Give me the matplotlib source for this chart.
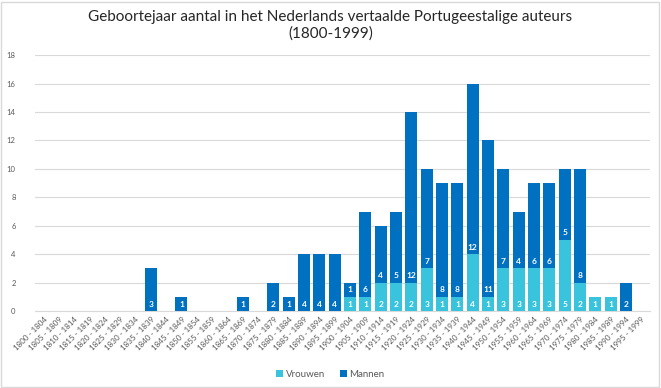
import matplotlib
matplotlib.use("Agg")
import matplotlib.pyplot as plt
import numpy as np
from matplotlib.patches import Rectangle

starts = list(range(1800, 2000, 5))
categories = [f"{s} - {s+4}" for s in starts]
vrouwen = [0,0,0,0,0,0,0,0,0,0, 0,0,0,0,0,0,0,0,0,0,
           1,1,2,2,2,3,1,1,4,1, 3,3,3,3,5,2,1,1,0,0]
mannen  = [0,0,0,0,0,0,0,3,0,1, 0,0,0,1,0,2,1,4,4,4,
           1,6,4,5,12,7,8,8,12,11, 7,4,6,6,5,8,0,0,2,0]

plt.rcParams['font.family'] = ['Lato', 'DejaVu Sans']
c_v = '#3AC3DD'
c_m = '#0070C0'

fig = plt.figure(figsize=(6.61, 3.88), dpi=100)
ax = fig.add_axes([0.053, 0.198, 0.93, 0.66])
x = np.arange(len(categories))
w = 0.78
ax.bar(x, vrouwen, w, color=c_v, label='Vrouwen', zorder=3)
ax.bar(x, mannen, w, bottom=vrouwen, color=c_m, label='Mannen', zorder=3)

for i in range(len(x)):
    if vrouwen[i] > 0:
        ax.text(x[i], 0.25, str(vrouwen[i]), ha='center', va='bottom', color='white',
                fontsize=6, fontweight='bold', zorder=4)
    if mannen[i] > 0:
        ax.text(x[i], vrouwen[i] + 0.25, str(mannen[i]), ha='center', va='bottom', color='white',
                fontsize=6, fontweight='bold', zorder=4)

ax.set_xlim(-0.55, len(x) - 0.45)
ax.set_ylim(0, 18)
ax.set_yticks(range(0, 19, 2))
ax.yaxis.grid(True, color='#D9D9D9', linewidth=0.8, zorder=0)
ax.set_xticks(x)
ax.set_xticklabels(categories, rotation=45, ha='right', rotation_mode='anchor', fontsize=5.8, color='#595959')
ax.tick_params(axis='y', labelsize=5.5, colors='#595959', length=0, pad=14)
ax.tick_params(axis='x', length=0, pad=3)
for s in ['top', 'right', 'left']:
    ax.spines[s].set_visible(False)
ax.spines['bottom'].set_color('#D9D9D9')

fig.suptitle('Geboortejaar aantal in het Nederlands vertaalde Portugeestalige auteurs\n(1800-1999)',
             y=0.975, fontsize=11, color='#262626', linespacing=1.2)
fig.legend(loc='lower center', bbox_to_anchor=(0.5, 0.0), ncol=2, frameon=False,
           fontsize=7, handlelength=0.7, handleheight=0.7, columnspacing=1.5, handletextpad=0.3,
           labelcolor='#595959')
fig.patches.append(Rectangle((0.002, 0.003), 0.995, 0.992, transform=fig.transFigure,
                             fill=False, edgecolor='#D9D9D9', linewidth=1))
fig.savefig('out.png', dpi=100)
